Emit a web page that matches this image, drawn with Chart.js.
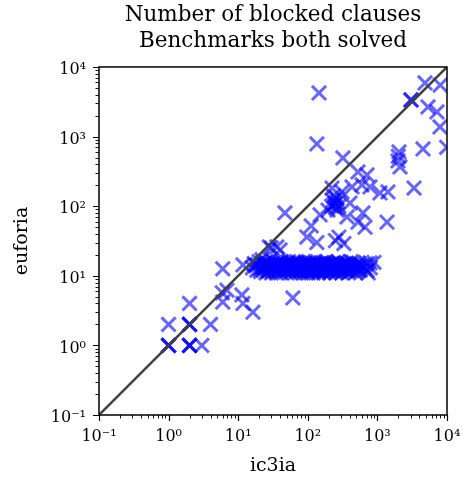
<!DOCTYPE html>
<html>
<head>
<meta charset="utf-8">
<script src="https://cdn.jsdelivr.net/npm/chart.js@4"></script>
<style>
  html, body { margin: 0; padding: 0; background: #fff; }
  #wrap { width: 463px; height: 482px; }
</style>
</head>
<body>
<div id="wrap"><canvas id="myChart" width="463" height="482"></canvas></div>
<script>
// ic3ia (x) vs euforia (y), one entry per benchmark
const ic3ia = [
    1, 1, 1, 2, 2, 2, 2, 2, 2, 1, 3, 4, 2,
    6, 5.9, 6.9, 6, 11.3, 11.7, 16.3, 11.7, 61,
    16, 17, 18.5, 19, 20, 21, 22, 22.5, 23, 24, 25, 25.5, 26, 27, 28, 29, 30, 31, 32, 33,
    34, 35, 36, 38, 39, 40, 41, 42, 44, 45, 46, 48, 49, 50, 52, 53, 55, 56, 58, 60,
    61, 63, 65, 67, 69, 71, 73, 75, 77, 80, 82, 85, 88, 90, 93, 96, 99, 102, 105, 108,
    112, 116, 120, 124, 128, 132, 137, 142, 147, 152, 158, 164, 170, 176, 183, 190, 197,
    205, 213, 221, 230, 240, 250, 260, 271, 283, 295, 308, 322, 336, 351, 367, 384, 402,
    420, 440, 462, 485, 510, 540, 570, 605, 650, 700, 740, 790, 894, 709, 783,
    18, 20.5, 23.5, 26.5, 29.5, 32.5, 35.5, 37, 43, 47, 51, 54, 57, 59, 62, 66,
    70, 74, 78, 83, 87, 91, 95, 100, 104, 110, 114, 118, 122, 126, 130, 135,
    140, 145, 150, 155, 161, 167, 173, 180, 186, 193, 201, 209, 217, 225, 235, 245,
    255, 266, 277, 289, 301, 315, 329, 343, 359, 375, 393, 411, 430, 451, 473, 497, 525, 555,
    22, 28, 30, 36, 40, 97, 135, 112, 330, 280, 250, 47,
    223, 310, 432, 601, 783, 1090, 1420, 526, 709, 246, 195, 263, 404, 366, 621,
    526, 664, 1374, 150, 230, 240, 260, 220, 250, 270, 235, 280,
    145, 135, 320, 2044, 1977, 2112, 2000, 3360, 4520, 3040, 3040, 4830, 8000, 5330, 7180, 7930, 9900
];
const euforia = [
    1, 1, 1, 1, 1, 1, 2, 2, 2, 2, 1, 2, 4,
    12.6, 5.7, 6.2, 4.2, 5.3, 4.0, 3.0, 14.3, 4.8,
    13, 15, 12, 14.5, 16, 11.5, 13, 15.5, 12, 14, 11, 16, 13.5, 15, 12, 14, 11, 13, 16, 12.5,
    14, 11, 15, 13, 12, 14.5, 11, 16, 13, 12, 15, 11.5, 14, 13, 12, 16, 14, 11, 13, 15,
    12, 14, 11, 13, 16, 12, 14, 11, 13, 15, 12, 14, 11, 13, 16, 12, 14, 11, 13, 15,
    12, 14, 11, 13, 16, 12, 14, 11, 13, 15, 12, 14, 11, 13, 16, 12, 14,
    11, 13, 15, 12, 14, 11, 13, 16, 12, 14, 11, 13, 15, 12, 14, 11, 13,
    16, 12, 14, 11, 13, 15, 12, 14, 13, 15, 11, 13, 15.6, 12, 15.3,
    14, 12.5, 15, 11.5, 13.5, 14.5, 12, 15.5, 14.5, 13.5, 15, 12.5, 14.5, 12, 15.5, 12.5,
    14.5, 15.5, 12, 13.5, 15, 12.5, 14.5, 12, 15.5, 13.5, 11.5, 15, 12, 14.5, 13.5, 12.5,
    15, 11.5, 13.5, 14, 12.5, 15.5, 11.8, 14.2, 13, 15.2, 12.2, 14.6, 11.6, 13.4, 15.4, 12.4,
    14.8, 11.4, 13.6, 15, 12.6, 14.4, 11.8, 13.8, 15.2, 12.2, 14.6, 11.6, 13.4, 15.6, 12.8, 14.2, 12.0, 13.6,
    17, 26, 25, 26, 23.5, 36, 30, 52, 29, 36, 32, 80,
    182, 160, 189, 202, 189, 155, 160, 310, 281, 111, 88, 88, 111, 70, 80,
    59, 50, 59, 75, 120, 105, 130, 100, 95, 115, 140, 100,
    4230, 783, 493, 601, 446, 366, 520, 182, 664, 3357, 3357, 5890, 5500, 2660, 2256, 1374, 700
];

const minVal = 0.1;
const maxVal = 10000;
const diagonal = [minVal, maxVal];

const points = ic3ia.map((v, i) => ({ x: v, y: euforia[i] }));

const serif = 'DejaVu Serif';
const sup = { '-': '\u207B', '0': '\u2070', '1': '\u00B9', '2': '\u00B2', '3': '\u00B3', '4': '\u2074' };
function decadeLabel(v) {
    const e = Math.log10(v);
    if (Math.abs(e - Math.round(e)) > 1e-6) return '';
    return '10' + String(Math.round(e)).split('').map(c => sup[c]).join('');
}

// box around the axes + log tick marks outside left/bottom
const frameTicks = {
    id: 'frameTicks',
    afterDraw(chart) {
        const { ctx, chartArea: { top, right, bottom, left }, scales: { x, y } } = chart;
        ctx.save();
        ctx.strokeStyle = '#000';
        for (let e = -1; e <= 4; e++) {
            for (let m = 1; m <= 9; m++) {
                const v = m * Math.pow(10, e);
                if (v > maxVal * 1.0001) break;
                const major = m === 1;
                const len = major ? 6 : 3.5;
                ctx.lineWidth = major ? 1.2 : 0.9;
                const px = Math.round(x.getPixelForValue(v)) + 0.5;
                const py = Math.round(y.getPixelForValue(v)) + 0.5;
                ctx.beginPath();
                ctx.moveTo(px, bottom);
                ctx.lineTo(px, bottom + len);
                ctx.moveTo(left, py);
                ctx.lineTo(left - len, py);
                ctx.stroke();
            }
        }
        ctx.lineWidth = 1.5;
        ctx.strokeRect(left, top, right - left, bottom - top);
        ctx.restore();
    }
};

const config = {
    type: 'scatter',
    data: {
        datasets: [
            {
                type: 'line',
                label: 'diagonal',
                data: diagonal.map(v => ({ x: v, y: v })),
                borderColor: '#404040',
                borderWidth: 2.5,
                pointRadius: 0,
                fill: false,
                clip: 0,
                order: 0
            },
            {
                label: 'benchmarks',
                data: points,
                pointStyle: 'crossRot',
                pointRadius: 10,
                pointHoverRadius: 10,
                borderWidth: 3,
                borderColor: 'rgba(0, 0, 255, 0.6)',
                backgroundColor: 'rgba(0, 0, 255, 0.6)',
                clip: 0,
                order: 1
            }
        ]
    },
    options: {
        responsive: false,
        animation: false,
        events: [],
        layout: { padding: { top: 0, right: 16, bottom: 0, left: 0 } },
        plugins: {
            legend: { display: false },
            tooltip: { enabled: false },
            title: {
                display: true,
                fullSize: false,
                text: ['Number of blocked clauses', 'Benchmarks both solved'],
                color: '#000',
                font: { family: serif, size: 21.5, weight: 'normal', lineHeight: 1.22 },
                padding: { top: 2, bottom: 12.5 }
            }
        },
        scales: {
            x: {
                type: 'logarithmic',
                min: minVal,
                max: maxVal,
                grid: { display: false, drawTicks: false },
                border: { display: false },
                afterFit(scale) {
                    scale.height = 67;
                    scale.paddingLeft = 0;
                    scale.paddingRight = 0;
                },
                ticks: {
                    autoSkip: false,
                    maxRotation: 0,
                    padding: 12,
                    color: '#000',
                    font: { family: serif, size: 16 },
                    callback: (v) => decadeLabel(v)
                },
                title: {
                    display: true,
                    text: 'ic3ia',
                    color: '#000',
                    font: { family: serif, size: 19 },
                    padding: { top: 0, bottom: 5 }
                }
            },
            y: {
                type: 'logarithmic',
                min: minVal,
                max: maxVal,
                grid: { display: false, drawTicks: false },
                border: { display: false },
                afterFit(scale) {
                    scale.width = 99;
                    scale.paddingTop = 0;
                    scale.paddingBottom = 0;
                },
                ticks: {
                    autoSkip: false,
                    padding: 13,
                    labelOffset: 3,
                    color: '#000',
                    font: { family: serif, size: 16 },
                    callback: (v) => decadeLabel(v)
                },
                title: {
                    display: true,
                    text: 'euforia',
                    color: '#000',
                    font: { family: serif, size: 19 },
                    padding: { top: 11, bottom: 0 }
                }
            }
        }
    },
    plugins: [frameTicks]
};

const myChart = new Chart(document.getElementById('myChart'), config);
</script>
</body>
</html>
